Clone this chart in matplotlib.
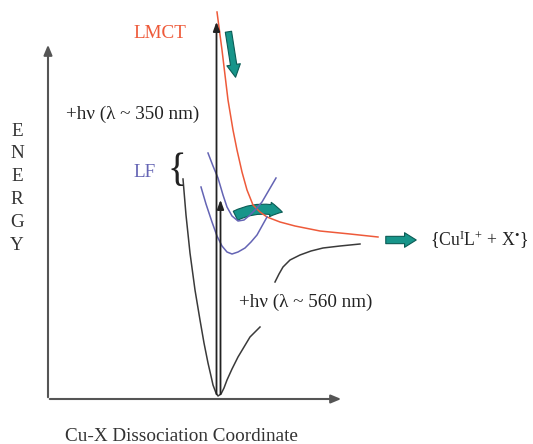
import numpy as np
import matplotlib
matplotlib.use("Agg")
import matplotlib.pyplot as plt
from matplotlib.patches import FancyArrowPatch

plt.rcParams["font.family"] = ["Liberation Serif", "DejaVu Serif"]
plt.rcParams["mathtext.fontset"] = "custom"
plt.rcParams["mathtext.rm"] = "Liberation Serif"
plt.rcParams["mathtext.it"] = "Liberation Serif:italic"

# Curves (picture coordinates, y down)
ground_x = [183, 186, 190, 195, 200, 204, 208, 211, 213, 216, 218, 221, 224, 227, 232, 238, 244, 250, 255, 260,
            np.nan, 275, 279, 283, 290, 300, 311, 323, 340, 360]
ground_y = [179, 215, 253, 290, 320, 343, 363, 376, 385, 393, 396, 394, 388, 380, 369, 357, 347, 337, 332, 327,
            np.nan, 282, 274, 267, 260, 255, 251, 248, 246, 244]

lmct_x = [217, 222, 228, 233, 237, 242, 247, 253, 260, 267, 280, 295, 320, 350, 378]
lmct_y = [12, 50, 100, 130, 150, 172, 190, 205, 212, 217, 222, 226, 231, 234, 237]

lf_upper_x = [208, 213, 218, 223, 227, 232, 238, 244, 250, 256, 262, 269, 276]
lf_upper_y = [153, 166, 178, 195, 207, 216, 221, 220, 215, 209, 202, 190, 178]

lf_lower_x = [201, 206, 212, 217, 222, 227, 232, 238, 245, 251, 257, 262, 267]
lf_lower_y = [187, 204, 222, 236, 246, 252, 254, 252, 248, 242, 235, 226, 217]

energy_letters = ["E", "N", "E", "R", "G", "Y"]

black = "#3a3a3a"
red = "#ee5a3a"
blue = "#6464b4"
teal = "#17958a"
teal_edge = "#0b5c55"
fs = 13.8

fig = plt.figure(figsize=(5.33, 4.44), dpi=100)
ax = fig.add_axes([0, 0, 1, 1])
ax.set_xlim(0, 533)
ax.set_ylim(444, 0)
ax.axis("off")

# axes arrows
ax.annotate("", xy=(48, 42), xytext=(48, 400),
            arrowprops=dict(arrowstyle="-|>,head_width=0.25,head_length=0.6", color="#555555", lw=1.5))
ax.annotate("", xy=(344, 399), xytext=(47, 399),
            arrowprops=dict(arrowstyle="-|>,head_width=0.25,head_length=0.6", color="#555555", lw=1.5))

# potential curves
ax.plot(ground_x, ground_y, color=black, lw=1.1)
ax.plot(lmct_x, lmct_y, color=red, lw=1.1)
ax.plot(lf_upper_x, lf_upper_y, color=blue, lw=1.1)
ax.plot(lf_lower_x, lf_lower_y, color=blue, lw=1.1)

# excitation arrows
ax.annotate("", xy=(216.5, 19), xytext=(216.5, 397),
            arrowprops=dict(arrowstyle="-|>,head_width=0.2,head_length=0.55", color="#222222", lw=1.3))
ax.annotate("", xy=(220.5, 197), xytext=(220.5, 397),
            arrowprops=dict(arrowstyle="-|>,head_width=0.2,head_length=0.55", color="#222222", lw=1.3))

# teal arrows
ax.add_patch(FancyArrowPatch((228, 29), (236, 80),
                             arrowstyle="simple,head_width=1.4,head_length=1.3,tail_width=0.65",
                             mutation_scale=7, fc=teal, ec=teal_edge, lw=0.8))
ax.add_patch(FancyArrowPatch((383, 240), (419, 240),
                             arrowstyle="simple,head_width=1.5,head_length=1.2,tail_width=0.75",
                             mutation_scale=7, fc=teal, ec=teal_edge, lw=0.8))
ax.add_patch(FancyArrowPatch((233, 217), (285, 213),
                             connectionstyle="arc3,rad=-0.22",
                             arrowstyle="simple,head_width=1.3,head_length=1.1,tail_width=0.9",
                             mutation_scale=8, fc=teal, ec=teal_edge, lw=0.8))

# labels
ax.text(133, 33, "LMCT", color=red, fontsize=fs, va="center", ha="left")
ax.text(66, 114, "+hν (λ ~ 350 nm)", color="#222222", fontsize=fs, va="center", ha="left")
ax.text(133, 172, "LF", color=blue, fontsize=fs, va="center", ha="left")
ax.text(177, 171, "{", color="#222222", fontsize=28, va="center", ha="center")
ax.text(239, 302, "+hν (λ ~ 560 nm)", color="#222222", fontsize=fs, va="center", ha="left")
ax.text(430, 240, "{Cu$^{\\rm I}$L$^{+}$ + X$^{\\mathrm{•}}$}", color="#222222", fontsize=12.8,
        va="center", ha="left")
for i, letter in enumerate(energy_letters):
    ax.text(17, 131 + i * 22.8, letter, color="#333333", fontsize=fs, va="center", ha="center")
ax.text(65, 436, "Cu-X Dissociation Coordinate", color="#333333", fontsize=fs, va="center", ha="left")

fig.savefig("out.png", dpi=100)
